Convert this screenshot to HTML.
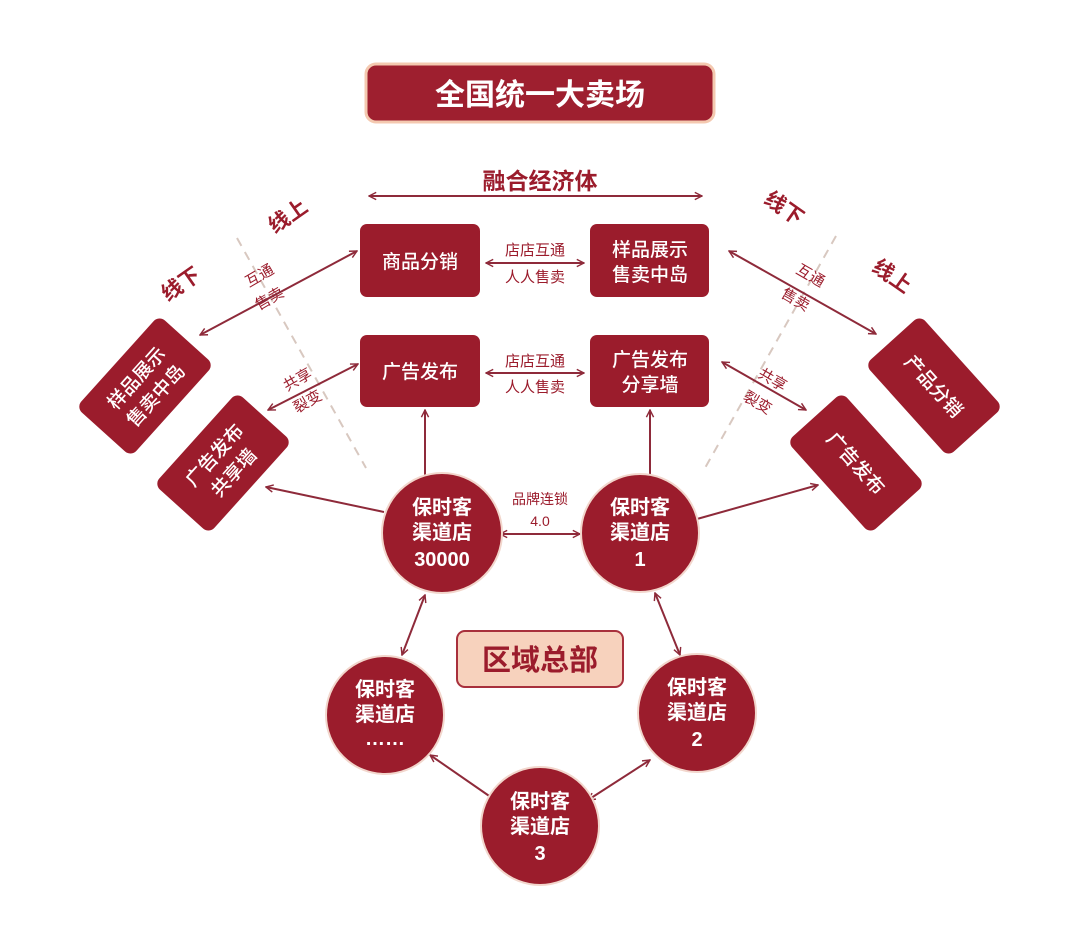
<!DOCTYPE html>
<html><head><meta charset="utf-8"><style>
html,body{margin:0;padding:0;background:#fff;}
svg{display:block;font-family:"Liberation Sans","Noto Sans CJK SC",sans-serif;}
.w{fill:#fff;font-weight:bold;text-anchor:middle;}
.n{fill:#fff;text-anchor:middle;font-weight:500;}
.r{fill:#9b1c2c;text-anchor:middle;}
.ln{stroke:#8e2a3a;stroke-width:2;fill:none;}
</style></head><body>
<svg width="1080" height="946" viewBox="0 0 1080 946">
<defs>
<marker id="a" viewBox="0 0 10 10" refX="9" refY="5" markerWidth="9" markerHeight="9" orient="auto-start-reverse" markerUnits="userSpaceOnUse">
<path d="M1,1 L9,5 L1,9" fill="none" stroke="#8e2a3a" stroke-width="1.6"/></marker>
</defs>
<rect x="366" y="64" width="348" height="58" rx="10" fill="#9e1f2f" stroke="#f4c9b0" stroke-width="3"/>
<text x="540" y="105" class="w" font-size="30">全国统一大卖场</text>
<text x="540" y="189" class="r" font-size="23" font-weight="bold">融合经济体</text>
<line x1="369" y1="196" x2="702" y2="196" class="ln" marker-start="url(#a)" marker-end="url(#a)"/>
<line x1="237" y1="238" x2="366" y2="468" stroke="#d8c8c0" stroke-width="2" stroke-dasharray="9,7"/>
<line x1="836" y1="236" x2="705" y2="468" stroke="#d8c8c0" stroke-width="2" stroke-dasharray="9,7"/>
<rect x="360" y="224" width="120" height="73" rx="7" fill="#9b1c2c"/>
<text x="420" y="268" class="n" font-size="19">商品分销</text>
<rect x="590" y="224" width="119" height="73" rx="7" fill="#9b1c2c"/>
<text x="650" y="256" class="n" font-size="19">样品展示</text>
<text x="650" y="281" class="n" font-size="19">售卖中岛</text>
<rect x="360" y="335" width="120" height="72" rx="7" fill="#9b1c2c"/>
<text x="420" y="378" class="n" font-size="19">广告发布</text>
<rect x="590" y="335" width="119" height="72" rx="7" fill="#9b1c2c"/>
<text x="650" y="366" class="n" font-size="19">广告发布</text>
<text x="650" y="391" class="n" font-size="19">分享墙</text>
<text x="535" y="255" class="r" font-size="15">店店互通</text>
<line x1="486" y1="263" x2="584" y2="263" class="ln" marker-start="url(#a)" marker-end="url(#a)"/>
<text x="535" y="282" class="r" font-size="15">人人售卖</text>
<text x="535" y="366" class="r" font-size="15">店店互通</text>
<line x1="486" y1="373" x2="584" y2="373" class="ln" marker-start="url(#a)" marker-end="url(#a)"/>
<text x="535" y="392" class="r" font-size="15">人人售卖</text>
<text transform="translate(292,222) rotate(-35)" class="r" font-size="21" font-weight="bold">线上</text>
<text transform="translate(185,290) rotate(-35)" class="r" font-size="21" font-weight="bold">线下</text>
<text transform="translate(780,214) rotate(35)" class="r" font-size="21" font-weight="bold">线下</text>
<text transform="translate(888,282) rotate(35)" class="r" font-size="21" font-weight="bold">线上</text>
<text transform="translate(262,280) rotate(-30)" class="r" font-size="15">互通</text>
<text transform="translate(272,303) rotate(-30)" class="r" font-size="15">售卖</text>
<text transform="translate(300,384) rotate(-30)" class="r" font-size="15">共享</text>
<text transform="translate(310,406) rotate(-30)" class="r" font-size="15">裂变</text>
<text transform="translate(808,280) rotate(30)" class="r" font-size="15">互通</text>
<text transform="translate(793,304) rotate(30)" class="r" font-size="15">售卖</text>
<text transform="translate(770,384) rotate(30)" class="r" font-size="15">共享</text>
<text transform="translate(755,407) rotate(30)" class="r" font-size="15">裂变</text>
<line x1="200" y1="335" x2="357" y2="251" class="ln" marker-start="url(#a)" marker-end="url(#a)"/>
<line x1="268" y1="410" x2="358" y2="364" class="ln" marker-start="url(#a)" marker-end="url(#a)"/>
<line x1="729" y1="251" x2="876" y2="334" class="ln" marker-start="url(#a)" marker-end="url(#a)"/>
<line x1="722" y1="362" x2="806" y2="410" class="ln" marker-start="url(#a)" marker-end="url(#a)"/>
<g transform="translate(145,386) rotate(-48)"><rect x="-62" y="-37" width="124" height="74" rx="8" fill="#9b1c2c"/>
<text x="0" y="-5" class="n" font-size="19">样品展示</text><text x="0" y="21" class="n" font-size="19">售卖中岛</text></g>
<g transform="translate(223,463) rotate(-48)"><rect x="-62" y="-37" width="124" height="74" rx="8" fill="#9b1c2c"/>
<text x="0" y="-5" class="n" font-size="19">广告发布</text><text x="0" y="21" class="n" font-size="19">共享墙</text></g>
<g transform="translate(934,386) rotate(48)"><rect x="-62" y="-37" width="124" height="74" rx="8" fill="#9b1c2c"/>
<text x="0" y="7" class="n" font-size="19">产品分销</text></g>
<g transform="translate(856,463) rotate(48)"><rect x="-62" y="-37" width="124" height="74" rx="8" fill="#9b1c2c"/>
<text x="0" y="7" class="n" font-size="19">广告发布</text></g>
<line x1="384" y1="512" x2="266" y2="487" class="ln" marker-end="url(#a)"/>
<line x1="697" y1="519" x2="818" y2="485" class="ln" marker-end="url(#a)"/>
<line x1="425" y1="478" x2="425" y2="410" class="ln" marker-end="url(#a)"/>
<line x1="650" y1="478" x2="650" y2="410" class="ln" marker-end="url(#a)"/>
<text x="540" y="504" class="r" font-size="14">品牌连锁</text>
<text x="540" y="526" class="r" font-size="14">4.0</text>
<line x1="500" y1="534" x2="580" y2="534" class="ln" marker-start="url(#a)" marker-end="url(#a)"/>
<line x1="425" y1="595" x2="402" y2="655" class="ln" marker-start="url(#a)" marker-end="url(#a)"/>
<line x1="655" y1="593" x2="680" y2="655" class="ln" marker-start="url(#a)" marker-end="url(#a)"/>
<line x1="430" y1="755" x2="495" y2="800" class="ln" marker-start="url(#a)" marker-end="url(#a)"/>
<line x1="650" y1="760" x2="588" y2="800" class="ln" marker-start="url(#a)" marker-end="url(#a)"/>
<g fill="#9b1c2c" stroke="#f2d6cc" stroke-width="2">
<circle cx="442" cy="533" r="60"/><circle cx="640" cy="533" r="59"/>
<circle cx="385" cy="715" r="59"/><circle cx="697" cy="713" r="59"/><circle cx="540" cy="826" r="59"/>
</g>
<g class="w" font-size="20">
<text x="442" y="514">保时客</text><text x="442" y="539">渠道店</text><text x="442" y="566">30000</text>
<text x="640" y="514">保时客</text><text x="640" y="539">渠道店</text><text x="640" y="566">1</text>
<text x="385" y="696">保时客</text><text x="385" y="721">渠道店</text><text x="385" y="745">……</text>
<text x="697" y="694">保时客</text><text x="697" y="719">渠道店</text><text x="697" y="746">2</text>
<text x="540" y="808">保时客</text><text x="540" y="833">渠道店</text><text x="540" y="860">3</text>
</g>
<rect x="457" y="631" width="166" height="56" rx="8" fill="#f7d2bd" stroke="#a8303c" stroke-width="2"/>
<text x="540" y="670" class="r" font-size="29" font-weight="bold">区域总部</text>
</svg>
</body></html>
